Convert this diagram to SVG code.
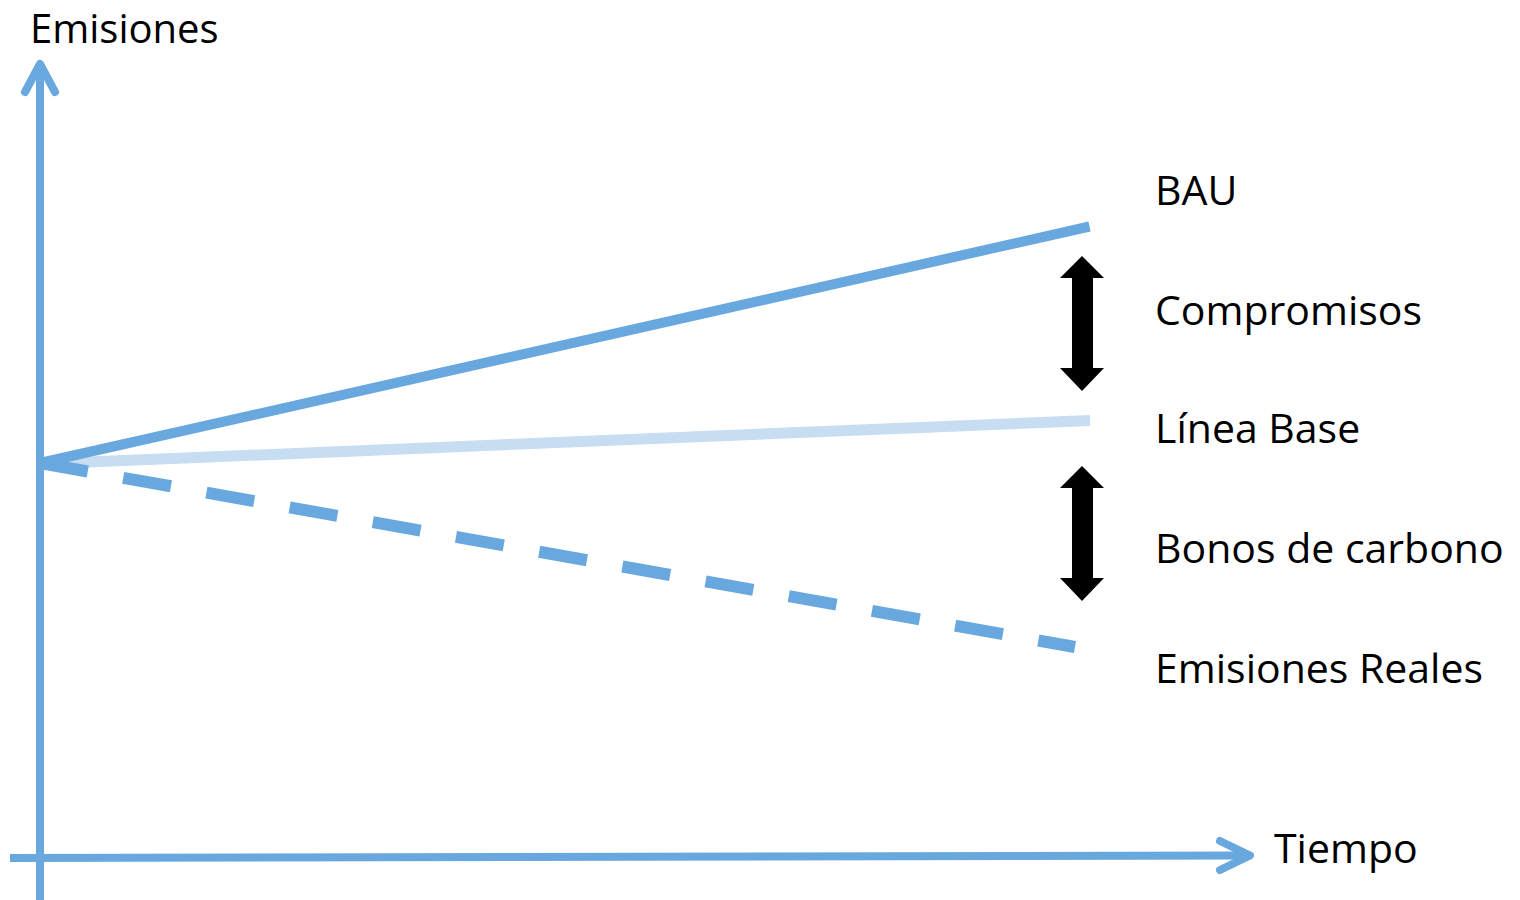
<svg xmlns="http://www.w3.org/2000/svg" width="1520" height="900" viewBox="0 0 1520 900">
<style>
.axis{fill:none;stroke:#68a8de;stroke-width:8;stroke-linecap:round;stroke-linejoin:round}
.lbl{font-family:"Open Sans","Liberation Sans",sans-serif;font-size:41px;fill:#000}
.dbl{fill:#000}
</style>
<rect width="1520" height="900" fill="#fff"/>
<g id="connectors">
<line x1="40" y1="464" x2="1090" y2="420.5" stroke="#c6ddf2" stroke-width="11"/>
<line x1="40" y1="463" x2="1089.5" y2="226.5" stroke="#68a8de" stroke-width="10"/>
<line x1="40" y1="463" x2="1075" y2="647" stroke="#68a8de" stroke-width="12" stroke-dasharray="48.5 36"/>
<line class="axis" x1="40" y1="65" x2="40" y2="905" style="stroke-linecap:butt"/>
<polyline class="axis" points="25,92 40,64 55,92"/>
<line class="axis" x1="10" y1="858" x2="1248" y2="855.5" style="stroke-linecap:butt"/>
<polyline class="axis" points="1220,841 1250,855.5 1220,870"/>
</g>
<g id="arrow-compromisos">
<polygon class="dbl" points="1082,256 1104,278 1093,278 1093,368 1104,368 1082,391 1060,368 1072,368 1072,278 1060,278"/>
</g>
<g id="arrow-bonos">
<polygon class="dbl" points="1082,466 1104,488 1093,488 1093,578 1104,578 1082,601 1060,578 1072,578 1072,488 1060,488"/>
</g>
<g id="label-emisiones"><text class="lbl" x="30" y="43" style="font-size:40px">Emisiones</text></g>
<g id="label-tiempo"><text class="lbl" x="1274" y="863">Tiempo</text></g>
<g id="label-bau"><text class="lbl" x="1155" y="205">BAU</text></g>
<g id="label-compromisos"><text class="lbl" x="1155" y="325">Compromisos</text></g>
<g id="label-linea-base"><text class="lbl" x="1155" y="443">Línea Base</text></g>
<g id="label-bonos"><text class="lbl" x="1155" y="563">Bonos de carbono</text></g>
<g id="label-reales"><text class="lbl" x="1155" y="683">Emisiones Reales</text></g>
</svg>
